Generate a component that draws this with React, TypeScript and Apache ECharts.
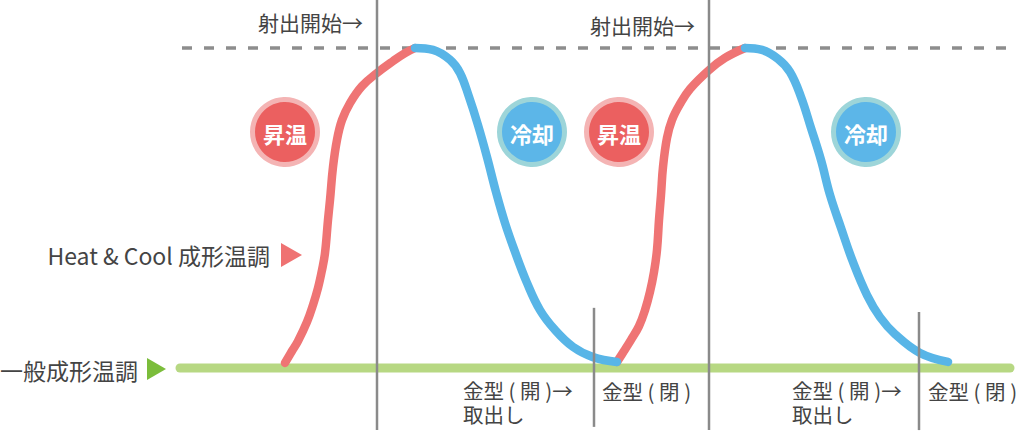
import React, { useEffect, useRef } from "react";
import * as echarts from "echarts";

// time (x) vs mold temperature (0 = general mold temp, 100 = injection temp)
const heatUp1: number[][] = [
  [285, 1.6], [292, 5.3], [298, 8.4], [307, 14.4], [313, 19.7], [318, 25.0], [322, 30.6],
  [325, 35.9], [328, 46.3], [330, 52.5], [333, 62.8], [337, 71.3], [342, 77.5], [350, 82.8],
  [362, 88.1], [377, 92.2], [393, 95.9], [405, 98.4], [415, 100],
];
const coolDown1: number[][] = [
  [415, 100], [433, 99.4], [450, 96.3], [460, 92.2], [469, 84.7], [478, 75.9], [487, 65.9],
  [496, 55.0], [505, 45.3], [515, 36.3], [527, 26.6], [540, 18.1], [555, 11.9], [573, 6.6],
  [593, 3.4], [617, 1.9],
];
const heatUp2: number[][] = [
  [617, 1.9], [624, 5.3], [631, 8.8], [639, 13.1], [645, 18.1], [650, 23.8], [654, 30.0],
  [657, 36.9], [659, 46.3], [661, 54.1], [663, 62.8], [667, 71.9], [672, 77.5], [680, 82.5],
  [690, 87.2], [709, 93.1], [725, 96.9], [745, 100],
];
const coolDown2: number[][] = [
  [745, 100], [762, 99.4], [778, 96.6], [790, 92.5], [801, 84.7], [811, 75.0], [821, 65.0],
  [830, 54.1], [841, 43.8], [853, 33.1], [867, 22.8], [880, 15.9], [895, 10.6], [920, 4.7],
  [948, 1.9],
];
const generalLevel: number[][] = [[180, 0], [1010, 0]];
const injectionLevel: number[][] = [[182, 100], [1008, 100]];
const injectionStartTimes = [377, 709];
const moldCloseTimes = [594, 919];
const tallLineRange = [115, -19.4];
const shortLineRanges = [[18.8, -18.4], [17.5, -19.4]];

const RED = "#ef7474";
const BLUE = "#58b5e7";
const FONT = '"Noto Sans CJK JP", "Noto Sans", sans-serif';
const TEXT = "#444444";

function curve(data: number[][], color: string, z: number) {
  return {
    type: "line",
    data,
    smooth: 0.4,
    symbol: "none",
    silent: true,
    clip: false,
    z,
    lineStyle: { color, width: 8.5, cap: "round", join: "round" },
  };
}

function vline(x: number, range: number[]) {
  return {
    type: "line",
    data: [[x, range[0]], [x, range[1]]],
    symbol: "none",
    silent: true,
    clip: false,
    z: 10,
    lineStyle: { color: "#8a8a8a", width: 2.5 },
  };
}

function label(text: string, x: number, y: number, align: string, size = 21, lineHeight = 22) {
  return {
    type: "text",
    x,
    y,
    z: 20,
    style: {
      text,
      fill: TEXT,
      font: `${size}px ${FONT}`,
      lineHeight,
      textAlign: align,
      textVerticalAlign: "middle",
      align,
      verticalAlign: "middle",
    },
  };
}

function badge(text: string, cx: number, cy: number, fill: string, ring: string) {
  return {
    type: "group",
    z: 20,
    children: [
      { type: "circle", shape: { cx, cy, r: 32.5 }, style: { fill, stroke: ring, lineWidth: 5 } },
      {
        type: "text",
        x: cx,
        y: cy + 1,
        style: {
          text,
          fill: "#ffffff",
          font: `bold 22px ${FONT}`,
          textAlign: "center",
          textVerticalAlign: "middle",
          align: "center",
          verticalAlign: "middle",
        },
      },
    ],
  };
}

export default function App() {
  const ref = useRef<HTMLDivElement>(null);
  useEffect(() => {
    if (!ref.current) return;
    const chart = echarts.init(ref.current, undefined, { renderer: "svg" });
    chart.setOption({
      animation: false,
      backgroundColor: "#ffffff",
      grid: { left: 0, right: 0, top: 0, bottom: 0 },
      xAxis: { type: "value", min: 0, max: 1024, show: false },
      yAxis: { type: "value", min: -24.6875, max: 115, show: false },
      series: [
        {
          type: "line",
          data: generalLevel,
          symbol: "none",
          silent: true,
          clip: false,
          z: 1,
          lineStyle: { color: "#b7d883", width: 9, cap: "round" },
        },
        {
          type: "line",
          data: injectionLevel,
          symbol: "none",
          silent: true,
          clip: false,
          z: 1,
          lineStyle: { color: "#8d8d8d", width: 3.5, type: [10, 12] },
        },
        curve(heatUp1, RED, 3),
        curve(heatUp2, RED, 3),
        curve(coolDown1, BLUE, 4),
        curve(coolDown2, BLUE, 4),
        ...injectionStartTimes.map((t) => vline(t, tallLineRange)),
        ...moldCloseTimes.map((t, i) => vline(t, shortLineRanges[i])),
      ],
      graphic: [
        label("射出開始→", 363, 22, "right", 21),
        label("射出開始→", 695, 25, "right", 21),
        label("Heat & Cool 成形温調", 270, 255, "right", 23),
        label("一般成形温調", 138, 370, "right", 23),
        { type: "polygon", z: 20, shape: { points: [[281, 243], [302, 255], [281, 267]] }, style: { fill: "#ef7272" } },
        { type: "polygon", z: 20, shape: { points: [[147, 358], [166, 369], [147, 380]] }, style: { fill: "#7bbd3b" } },
        label("金型 ( 開 )→\n取出し", 463, 402, "left", 20.5, 24),
        label("金型 ( 閉 )", 602, 391, "left", 20.5),
        label("金型 ( 開 )→\n取出し", 792, 402, "left", 20.5, 24),
        label("金型 ( 閉 )", 928, 391, "left", 20.5),
        badge("昇温", 285, 132, "#eb6060", "#f4b4b4"),
        badge("冷却", 532, 132, "#5cb6e8", "#9dd5d9"),
        badge("昇温", 619, 132, "#eb6060", "#f4b4b4"),
        badge("冷却", 866, 132, "#5cb6e8", "#9dd5d9"),
      ],
    });
    return () => chart.dispose();
  }, []);
  return (
    <div
      ref={ref}
      style={{ position: "absolute", left: 0, top: 0, width: 1024, height: 447 }}
    />
  );
}
